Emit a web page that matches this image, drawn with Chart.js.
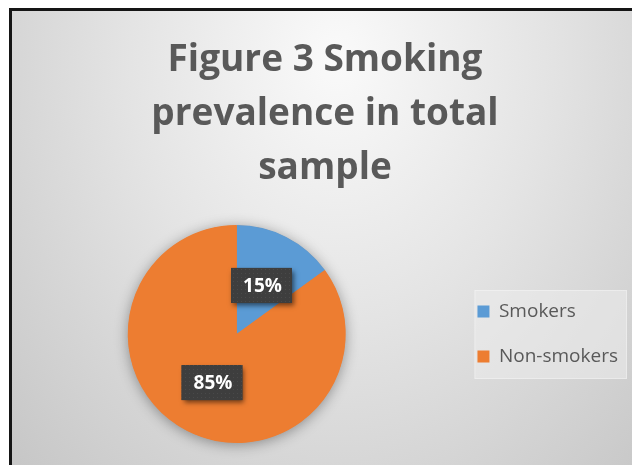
<!DOCTYPE html>
<html>
<head>
<meta charset="utf-8">
<script src="https://cdn.jsdelivr.net/npm/chart.js@4"></script>
<style>
  html, body { margin: 0; padding: 0; background: #fff; }
  #wrap { position: relative; width: 632px; height: 465px; overflow: hidden; }
  #frame {
    position: absolute; left: 9px; top: 8px; right: -6px; bottom: -6px;
    border-top: 3px solid #151515; border-left: 3px solid #151515;
    background: radial-gradient(ellipse farthest-corner at 52% 10%, #fafafa 0%, #e4e4e4 45%, #c6c6c6 100%);
  }
  canvas { position: absolute; left: 0; top: 0; }
</style>
</head>
<body>
<div id="wrap">
  <div id="frame"></div>
  <canvas id="smoking-chart" width="632" height="465"></canvas>
</div>
<script>
// ── data ──────────────────────────────────────────────────────────
const groups = ["Smokers", "Non-smokers"];
const shares = [15, 85];
const sliceColors = ["#5B9BD5", "#ED7D31"];
const titleLines = ["Figure 3 Smoking", "prevalence in total", "sample"];

// dotted fill used inside the value boxes
function makeDots() {
  const c = document.createElement("canvas");
  c.width = 4; c.height = 4;
  const g = c.getContext("2d");
  g.fillStyle = "#3e3e3e"; g.fillRect(0, 0, 4, 4);
  g.fillStyle = "#4a4a4a"; g.fillRect(1, 1, 1, 1);
  return g.createPattern(c, "repeat");
}

// soft shadow under the whole pie
const pieShadow = {
  id: "pieShadow",
  beforeDatasetsDraw(chart) {
    const arc = chart.getDatasetMeta(0).data[0];
    if (!arc) return;
    const ctx = chart.ctx;
    ctx.save();
    ctx.shadowColor = "rgba(0,0,0,0.38)";
    ctx.shadowBlur = 14;
    ctx.shadowOffsetY = 2;
    ctx.fillStyle = sliceColors[1];
    ctx.beginPath();
    ctx.arc(arc.x, arc.y, arc.outerRadius - 0.5, 0, Math.PI * 2);
    ctx.fill();
    ctx.restore();
  }
};

// light panel behind the legend entries
const legendPanel = {
  id: "legendPanel",
  beforeDraw(chart) {
    const hb = chart.legend && chart.legend.legendHitBoxes;
    if (!hb || !hb.length) return;
    const first = hb[0], last = hb[hb.length - 1];
    const x0 = first.left - 3, y0 = first.top - 12;
    const x1 = Math.max(...hb.map(b => b.left + b.width)) + 9;
    const y1 = last.top + last.height + 13;
    const ctx = chart.ctx;
    ctx.save();
    ctx.fillStyle = "rgba(236,236,236,0.55)";
    ctx.fillRect(x0, y0, x1 - x0, y1 - y0);
    ctx.strokeStyle = "rgba(255,255,255,0.35)";
    ctx.strokeRect(x0 + 0.5, y0 + 0.5, x1 - x0 - 1, y1 - y0 - 1);
    ctx.restore();
  }
};

// percentage boxes at each slice centre
const sliceLabels = {
  id: "sliceLabels",
  afterDatasetsDraw(chart) {
    const ctx = chart.ctx;
    const meta = chart.getDatasetMeta(0);
    const total = shares.reduce((a, b) => a + b, 0);
    const dots = makeDots();
    ctx.save();
    ctx.font = "bold 19px 'Open Sans'";
    ctx.textAlign = "center";
    ctx.textBaseline = "middle";
    meta.data.forEach((arc, i) => {
      const p = arc.tooltipPosition();
      const txt = Math.round(shares[i] / total * 100) + "%";
      const w = ctx.measureText(txt).width + 22, h = 35;
      const x = p.x - w / 2, y = p.y - h / 2;
      ctx.shadowColor = "rgba(0,0,0,0.55)";
      ctx.shadowBlur = 5; ctx.shadowOffsetX = 2; ctx.shadowOffsetY = 3;
      ctx.fillStyle = "#3e3e3e";
      ctx.fillRect(x, y, w, h);
      ctx.shadowColor = "transparent";
      ctx.fillStyle = dots;
      ctx.fillRect(x, y, w, h);
      ctx.fillStyle = "#ffffff";
      ctx.fillText(txt, p.x + 1, p.y + 1);
    });
    ctx.restore();
  }
};

new Chart(document.getElementById("smoking-chart"), {
  type: "pie",
  data: {
    labels: groups,
    datasets: [{ data: shares, backgroundColor: sliceColors, borderWidth: 0 }]
  },
  options: {
    responsive: false,
    animation: false,
    layout: { padding: { top: 10, left: 22, right: 4, bottom: 22 } },
    plugins: {
      title: {
        display: true,
        text: titleLines,
        color: "#595959",
        font: { family: "'Open Sans'", size: 37, weight: "bold", lineHeight: "54px" },
        padding: { top: 23, bottom: 30 }
      },
      legend: {
        position: "right",
        fullSize: false,
        labels: {
          boxWidth: 12, boxHeight: 12, padding: 26,
          color: "#595959",
          font: { family: "'Open Sans'", size: 19 }
        }
      },
      tooltip: { enabled: false }
    }
  },
  plugins: [legendPanel, pieShadow, sliceLabels]
});
</script>
</body>
</html>
